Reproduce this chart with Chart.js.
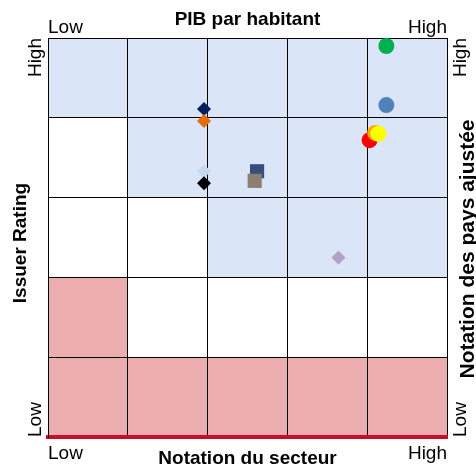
<!DOCTYPE html>
<html>
<head>
<meta charset="utf-8">
<script src="https://cdn.jsdelivr.net/npm/chart.js@4"></script>
<style>
  html, body { margin: 0; padding: 0; background: #fff; }
  canvas { display: block; }
</style>
</head>
<body>
<canvas id="matrix" width="476" height="467"></canvas>
<script>
// sector score (x) and adjusted country score (y), 0 = low .. 5 = high
const sectorScores  = [4.24, 4.24, 4.03, 4.10, 4.14, 1.955, 1.955, 1.955, 1.955, 2.62, 2.59, 3.64];
const countryScores = [4.90, 4.16, 3.72, 3.81, 3.80, 4.11, 3.96, 3.33, 3.18, 3.33, 3.21, 2.25];
const markerColors  = ['#00b050', '#4f81bd', '#ff0000', '#ffa500', '#ffff00', '#002060', '#e36c09', '#c6d9f1', '#000000', '#364e7e', '#8c7f6e', '#b3a2c7'];
const markerShapes  = ['circle', 'circle', 'circle', 'circle', 'circle', 'rectRot', 'rectRot', 'rectRot', 'rectRot', 'rect', 'rect', 'rectRot'];

// zone of each cell, rows from top (high) to bottom (low): 2 = favourable, 1 = neutral, 0 = weak
const zoneRows = [
  [2, 2, 2, 2, 2],
  [1, 2, 2, 2, 2],
  [1, 1, 2, 2, 2],
  [0, 1, 1, 1, 1],
  [0, 0, 0, 0, 0]
];
const zoneColors = ['#ebadad', '#ffffff', '#dbe5f8'];

const points = sectorScores.map((x, i) => ({ x: x, y: countryScores[i] }));
const radii = markerShapes.map(s => s === 'circle' ? 8 : (s === 'rect' ? 10 : 7));

// colour the cells under the grid
const zonesPlugin = {
  id: 'zones',
  beforeDraw(chart) {
    const { ctx, scales: { x, y } } = chart;
    ctx.save();
    zoneRows.forEach((row, r) => {
      row.forEach((z, c) => {
        const x0 = x.getPixelForValue(c), x1 = x.getPixelForValue(c + 1);
        const y0 = y.getPixelForValue(5 - r), y1 = y.getPixelForValue(4 - r);
        ctx.fillStyle = zoneColors[z];
        ctx.fillRect(x0, y0, x1 - x0, y1 - y0);
      });
    });
    ctx.restore();
  }
};

// axis captions round the matrix
const labelsPlugin = {
  id: 'labels',
  afterDraw(chart) {
    const { ctx, chartArea: a } = chart;
    const cx = (a.left + a.right) / 2;
    const small = '19px "Liberation Sans", Arial, sans-serif';
    const bold = 'bold 19px "Liberation Sans", Arial, sans-serif';
    ctx.save();
    ctx.fillStyle = '#000';
    ctx.textBaseline = 'alphabetic';

    ctx.font = bold;
    ctx.textAlign = 'center';
    ctx.fillText('PIB par habitant', cx, 25);
    ctx.fillText('Notation du secteur', cx, 464);

    ctx.font = small;
    ctx.textAlign = 'left';
    ctx.fillText('Low', a.left, 33);
    ctx.fillText('Low', a.left, 459);
    ctx.textAlign = 'right';
    ctx.fillText('High', a.right, 33);
    ctx.fillText('High', a.right, 459);

    const vtext = (txt, x, y, align, font) => {
      ctx.save();
      ctx.translate(x, y);
      ctx.rotate(-Math.PI / 2);
      ctx.font = font;
      ctx.textAlign = align;
      ctx.fillText(txt, 0, 0);
      ctx.restore();
    };
    vtext('High', 41, a.top, 'right', small);
    vtext('Low', 41, a.bottom, 'left', small);
    vtext('High', 466, a.top, 'right', small);
    vtext('Low', 466, a.bottom, 'left', small);
    vtext('Issuer Rating', 26, 243, 'center', bold);
    vtext('Notation des pays ajustée', 474, 249, 'center', 'bold 21px "Liberation Sans", Arial, sans-serif');
    ctx.restore();
  }
};

new Chart(document.getElementById('matrix').getContext('2d'), {
  type: 'scatter',
  data: {
    datasets: [{
      data: points,
      pointStyle: markerShapes,
      pointBackgroundColor: markerColors,
      pointBorderWidth: 0,
      pointRadius: radii,
      pointHoverRadius: radii,
      clip: false
    }]
  },
  options: {
    responsive: false,
    animation: false,
    devicePixelRatio: 1,
    layout: { padding: { left: 48, top: 38, right: 29, bottom: 30 } },
    plugins: { legend: { display: false }, tooltip: { enabled: false } },
    scales: {
      x: {
        type: 'linear', min: 0, max: 5,
        ticks: { display: false, stepSize: 1 },
        grid: { color: '#000', lineWidth: 1, drawTicks: false },
        border: { color: '#c8102e', width: 4 }
      },
      y: {
        type: 'linear', min: 0, max: 5,
        ticks: { display: false, stepSize: 1 },
        grid: { color: '#000', lineWidth: 1, drawTicks: false },
        border: { color: '#000', width: 1 }
      }
    }
  },
  plugins: [zonesPlugin, labelsPlugin]
});
</script>
</body>
</html>
